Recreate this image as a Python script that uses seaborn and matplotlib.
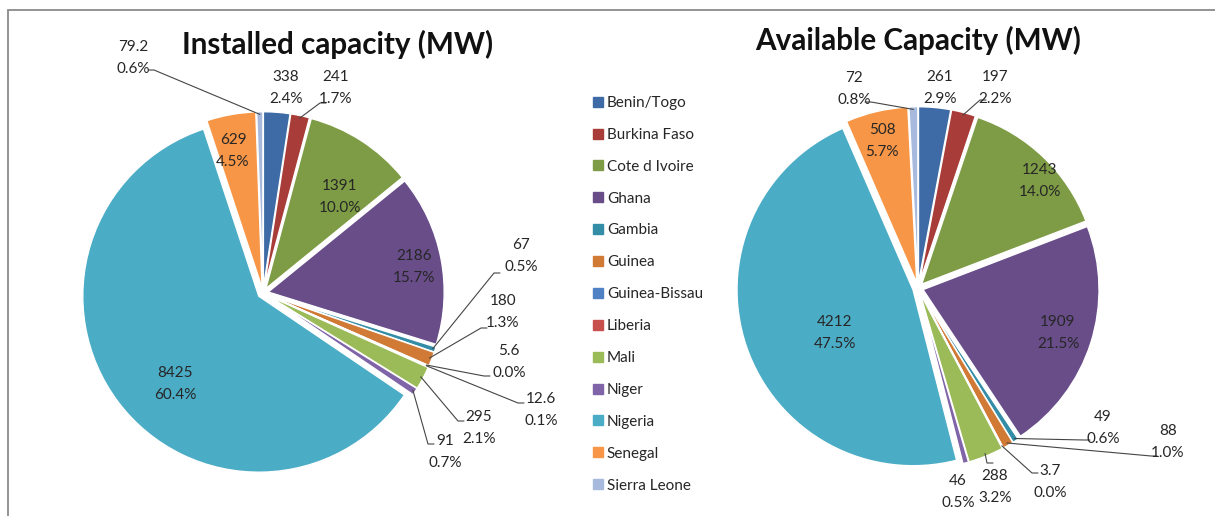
import matplotlib
matplotlib.use("Agg")
import matplotlib.pyplot as plt
import seaborn as sns
import numpy as np
from matplotlib.lines import Line2D
from matplotlib.patches import Rectangle

# ---------------- data ----------------
countries = ["Benin/Togo", "Burkina Faso", "Cote d Ivoire", "Ghana", "Gambia", "Guinea",
             "Guinea-Bissau", "Liberia", "Mali", "Niger", "Nigeria", "Senegal", "Sierra Leone"]
installed = [338, 241, 1391, 2186, 67, 180, 5.6, 12.6, 295, 91, 8425, 629, 79.2]
available = [261, 197, 1243, 1909, 49, 88, 3.7, 0, 288, 46, 4212, 508, 72]
titles = ["Installed capacity (MW)", "Available Capacity (MW)"]

colors = ["#3E6BA6", "#A83C39", "#7E9C45", "#684D89", "#348DA6", "#D07A35",
          "#4F81C4", "#C7504D", "#9BBB59", "#8064A8", "#4BACC6", "#F79646", "#A7B9DC"]

# ---------------- layout (pixels in a 1215x516 canvas) ----------------
W, H = 1215, 516
R = 176.0
pies = [
    dict(cx=263, cy=293, title_xy=(338, 44)),
    dict(cx=918, cy=288, title_xy=(918, 40)),
]
# label block centre (px), leader-line end (px) or None
label_layout_left = {
    "Benin/Togo": ((286, 88), None),
    "Burkina Faso": ((336, 88), (320, 103)),
    "Cote d Ivoire": ((340, 197), None),
    "Ghana": ((414, 267), None),
    "Gambia": ((521, 256), (494, 273)),
    "Guinea": ((503, 312), (481, 328)),
    "Guinea-Bissau": ((509, 362), (484, 376)),
    "Liberia": ((541, 410), (518, 403)),
    "Mali": ((479, 428), (458, 421)),
    "Niger": ((445, 452), (428, 444)),
    "Nigeria": ((175, 384), None),
    "Senegal": ((233, 151), None),
    "Sierra Leone": ((133, 58), (154, 70)),
}
label_layout_right = {
    "Benin/Togo": ((940, 88), None),
    "Burkina Faso": ((995, 88), (980, 100)),
    "Cote d Ivoire": ((1040, 181), None),
    "Ghana": ((1058, 333), None),
    "Gambia": ((1103, 428), (1084, 440)),
    "Guinea": ((1168, 442), (1151, 456)),
    "Guinea-Bissau": ((1050, 482), (1032, 473)),
    "Mali": ((995, 487), (987, 463)),
    "Niger": ((958, 492), None),
    "Nigeria": ((835, 333), None),
    "Senegal": ((882, 141), None),
    "Sierra Leone": ((854, 89), (871, 102)),
}
layouts = [label_layout_left, label_layout_right]

sns.set_theme(style="white")
plt.rcParams["font.family"] = ["Lato", "DejaVu Sans"]

fig = plt.figure(figsize=(W / 100, H / 100), dpi=100)
fig.patch.set_facecolor("white")

# outer frame (only top and left visible)
fig.add_artist(Rectangle((8 / W, -0.1), 1.2, (H - 10) / H + 0.1, transform=fig.transFigure,
                         fill=False, edgecolor="#8a8a8a", linewidth=1.3))

text_color = "#262626"
line_color = "#454545"


def fmt_val(v):
    return f"{v:g}"


for p, values, title, layout in zip(pies, [installed, available], titles, layouts):
    cx, cy = p["cx"], p["cy"]
    half = 1.35 * R
    ax = fig.add_axes([(cx - half) / W, (H - cy - half) / H, 2 * half / W, 2 * half / H])

    def to_data(px, py):
        return (px - cx) / R, (cy - py) / R

    wedges, _ = ax.pie(values, colors=colors, startangle=90, counterclock=False,
                       explode=[0.03] * len(values), radius=1.0,
                       wedgeprops=dict(edgecolor="white", linewidth=1.0))
    ax.set_xlim(-1.35, 1.35)
    ax.set_ylim(-1.35, 1.35)
    ax.set_axis_off()
    total = float(np.sum(values))
    for name, v, w in zip(countries, values, wedges):
        if name not in layout or v == 0:
            continue
        (tx, ty), lend = layout[name]
        x, y = to_data(tx, ty)
        ax.text(x, y, f"{fmt_val(v)}\n{v / total * 100:.1f}%", ha="center", va="center",
                fontsize=11, linespacing=1.8, color=text_color, clip_on=False)
        if lend is not None:
            th = np.deg2rad((w.theta1 + w.theta2) / 2)
            ccx, ccy = w.center
            ax_x = ccx + 0.985 * w.r * np.cos(th)
            ax_y = ccy + 0.985 * w.r * np.sin(th)
            ex, ey = to_data(*lend)
            sgn = 1 if tx > lend[0] else -1
            ax.plot([ax_x, ex, ex + sgn * 6 / R], [ax_y, ey, ey], color=line_color,
                    lw=0.8, clip_on=False)

    tx, ty = p["title_xy"]
    fig.text(tx / W, 1 - ty / H, title, ha="center", va="center", fontsize=21.3,
             fontweight="bold", color="#111111")

handles = [Line2D([], [], marker="s", linestyle="", markersize=6.8, color=c) for c in colors]
fig.legend(handles, countries, loc="upper left", bbox_to_anchor=(593 / W, 1 - 96 / H),
           frameon=False, handlelength=0.6, handletextpad=0.3, labelspacing=1.17,
           fontsize=11, borderaxespad=0, borderpad=0, labelcolor=text_color)

fig.savefig("out.png", dpi=100, facecolor="white")
